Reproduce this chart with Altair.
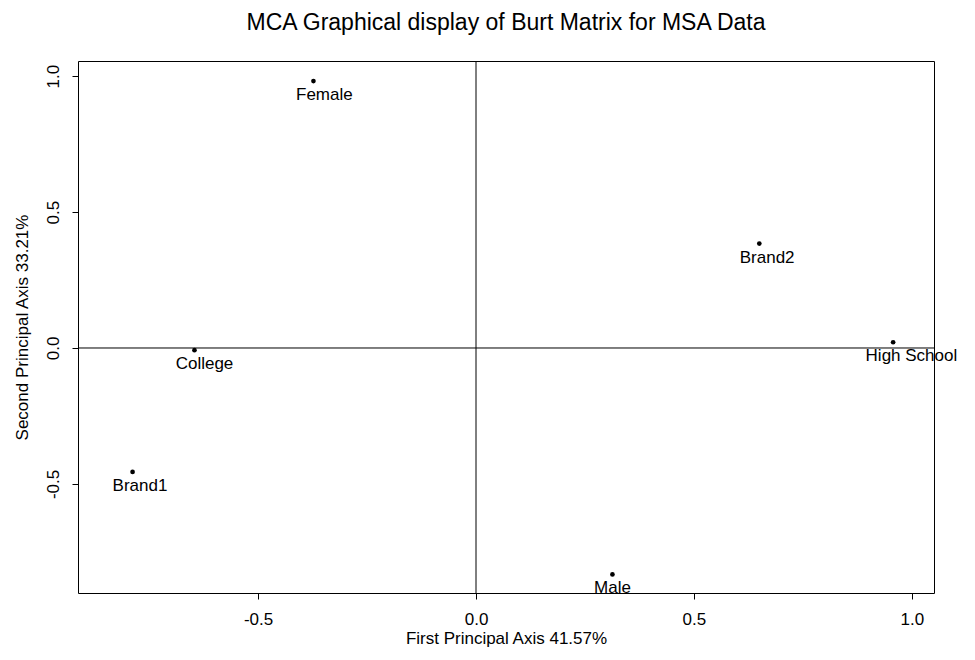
import altair as alt
import pandas as pd

# Category labels and MCA coordinates
categories = ["Female", "Brand2", "High School", "College", "Brand1", "Male"]
dim1 = [-0.373, 0.650, 0.957, -0.646, -0.788, 0.313]
dim2 = [0.982, 0.384, 0.021, -0.008, -0.456, -0.833]
label_dim1 = [-0.348, 0.668, 0.999, -0.623, -0.771, 0.313]

x_ticks = [-0.5, 0.0, 0.5, 1.0]
y_ticks = [-0.5, 0.0, 0.5, 1.0]
x_domain = [-0.9132, 1.0508]
y_domain = [-0.9013, 1.0557]

df = pd.DataFrame({"cat": categories, "x": dim1, "y": dim2, "lx": label_dim1})
ref = pd.DataFrame({"v": [0.0]})

FONT = "Liberation Sans"
lab_expr = "datum.value < 0 ? '-' + format(-datum.value, '.1f') : format(datum.value, '.1f')"

xscale = alt.Scale(domain=x_domain, nice=False, zero=False)
yscale = alt.Scale(domain=y_domain, nice=False, zero=False)

xaxis = alt.Axis(
    title="First Principal Axis 41.57%", values=x_ticks, labelExpr=lab_expr,
    grid=False, domain=False, tickSize=6, tickColor="black", labelColor="black",
    labelFont=FONT, labelFontSize=17, labelBaseline="alphabetic", labelPadding=25,
    titleFont=FONT, titleFontSize=17, titleFontWeight="normal", titleColor="black",
    titleBaseline="alphabetic", titleY=50,
)
yaxis = alt.Axis(
    title="Second Principal Axis 33.21%", values=y_ticks, labelExpr=lab_expr,
    grid=False, domain=False, tickSize=6, tickColor="black", labelColor="black",
    labelFont=FONT, labelFontSize=17, labelAngle=270, labelAlign="center",
    labelBaseline="alphabetic", labelPadding=14,
    titleFont=FONT, titleFontSize=17, titleFontWeight="normal", titleColor="black",
    titleAngle=270, titleBaseline="alphabetic", titleX=-51,
)

points = alt.Chart(df).mark_circle(color="black", opacity=1, size=22).encode(
    x=alt.X("x:Q", scale=xscale, axis=xaxis),
    y=alt.Y("y:Q", scale=yscale, axis=yaxis),
)

texts = alt.Chart(df).mark_text(
    font=FONT, fontSize=17, color="black", baseline="alphabetic", align="center", dy=19
).encode(
    x=alt.X("lx:Q", scale=xscale),
    y=alt.Y("y:Q", scale=yscale),
    text="cat:N",
)

vline = alt.Chart(ref).mark_rule(color="black", strokeWidth=1).encode(x=alt.X("v:Q", scale=xscale))
hline = alt.Chart(ref).mark_rule(color="black", strokeWidth=1).encode(y=alt.Y("v:Q", scale=yscale))

chart = alt.layer(vline, hline, points, texts).properties(
    width=856,
    height=532,
    background="white",
    autosize=alt.AutoSizeParams(type="none"),
    padding={"left": 78, "top": 61, "right": 41, "bottom": 67},
    title=alt.TitleParams(
        "MCA Graphical display of Burt Matrix for MSA Data",
        font=FONT, fontSize=23, fontWeight="normal", color="black",
        anchor="middle", baseline="alphabetic", offset=8,
    ),
).configure_view(stroke="black", strokeWidth=1, strokeOpacity=1)

chart.save("out.html", embed_options={"renderer": "svg", "actions": False})
